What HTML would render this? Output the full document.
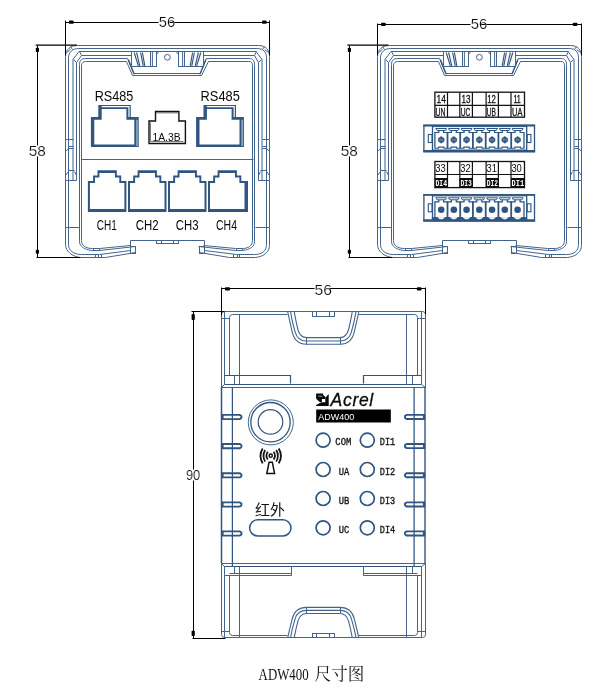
<!DOCTYPE html>
<html><head><meta charset="utf-8"><title>ADW400</title>
<style>html,body{margin:0;padding:0;background:#fff;}body{width:613px;height:690px;overflow:hidden;font-family:"Liberation Sans",sans-serif;}svg{display:block;}</style>
</head><body>
<svg width="613" height="690" viewBox="0 0 613 690" style="will-change:transform">
<rect width="613" height="690" fill="#fff"/>
<defs><mask id="mk" maskUnits="userSpaceOnUse" x="0" y="0" width="613" height="690"><rect width="613" height="690" fill="#fff"/></mask>
<g id="shell" fill="none">
<path d="M135.5,252.5 L105.5,257.5 L80.5,257.5 C71.5,256.5 66.5,251.5 65.5,245.5 L65.5,56.5 C65.5,49.5 70.5,45.5 77.5,45.5 L258.5,45.5 C265.5,45.5 269.5,49.5 269.5,56.5 L269.5,245.5 C269.5,251.5 264.5,256.5 255.5,257.5 L229.5,257.5 L199.5,252.5" stroke="#43658d" stroke-width="1" fill="none" />
<path d="M130.5,250.5 L99.5,254.5 L81.5,254.5 C73.5,254.5 68.5,250.5 68.5,244.5 L68.5,57.5 C68.5,52.5 72.5,48.5 78.5,48.5 L257.5,48.5 C263.5,48.5 266.5,52.5 266.5,57.5 L266.5,244.5 C266.5,250.5 262.5,254.5 254.5,254.5 L236.5,254.5 L204.5,250.5" stroke="#43658d" stroke-width="1" fill="none" />
<path d="M66.5,52.5L70.5,49.5" stroke="#43658d" stroke-width="1"/>
<path d="M268.5,52.5L264.5,49.5" stroke="#43658d" stroke-width="1"/>
<path d="M70.5,46.5L72.5,49.5" stroke="#43658d" stroke-width="1"/>
<path d="M264.5,46.5L262.5,49.5" stroke="#43658d" stroke-width="1"/>
<path d="M73,180 L73,59.5 L79,51.5 L256.0,51.5 L262.0,59.5 L262.0,180" stroke="#43658d" stroke-width="1" fill="none" />
<path d="M76.5,180.5 L76.5,62.5 L81.5,55.5 L131.5,55.5" stroke="#43658d" stroke-width="1" fill="none" />
<path d="M258.5,180.5 L258.5,62.5 L254.5,55.5 L203.5,55.5" stroke="#43658d" stroke-width="1" fill="none" />
<path d="M73.5,59.5L76.5,62.5" stroke="#43658d" stroke-width="1"/>
<path d="M261.5,59.5L258.5,62.5" stroke="#43658d" stroke-width="1"/>
<path d="M79.5,51.5L81.5,55.5" stroke="#43658d" stroke-width="1"/>
<path d="M256.5,51.5L254.5,55.5" stroke="#43658d" stroke-width="1"/>
<path d="M135.5,246.5 L99.5,250.5 L91.5,250.5 C84.5,249.5 79.5,246.5 79.5,241.5 L79.5,64.5 C79.5,60.5 81.5,58.5 85.5,58.5 L127.5,58.5 L133.5,73.5 L200.5,73.5 L206.5,58.5 L249.5,58.5 C252.5,58.5 254.5,60.5 254.5,64.5 L254.5,241.5 C254.5,246.5 250.5,249.5 242.5,250.5 L235.5,250.5 L198.5,246.5" stroke="#43658d" stroke-width="1" fill="none" />
<path d="M130.5,245.5 L99.5,248.5 L92.5,248.5 C85.5,248.5 81.5,245.5 81.5,240.5 L81.5,65.5 C81.5,62.5 83.5,61.5 86.5,61.5 L126.5,61.5 L132.5,75.5 L201.5,75.5 L208.5,61.5 L248.5,61.5 C251.5,61.5 252.5,62.5 252.5,65.5 L252.5,240.5 C252.5,245.5 248.5,248.5 242.5,248.5 L235.5,248.5 L203.5,245.5" stroke="#43658d" stroke-width="1" fill="none" />
<path d="M128.4,59.5 L134.4,74.4 M205.8,59.5 L199.8,74.4" stroke="#2f5580" stroke-width="1.2" fill="none" />
<path d="M130.5,253.5 L130.5,240.5 L204.5,240.5 L204.5,253.5" stroke="#43658d" stroke-width="1" fill="none" />
<rect x="156.5" y="240.5" width="22.0" height="3.0" stroke="#43658d" stroke-width="1" fill="none"/>
<path d="M161.5,240.5L161.5,243.5" stroke="#43658d" stroke-width="1"/>
<path d="M173.5,240.5L173.5,243.5" stroke="#43658d" stroke-width="1"/>
<rect x="130.5" y="246.5" width="5.0" height="7.0" stroke="#43658d" stroke-width="1" fill="none"/>
<rect x="199.5" y="246.5" width="5.0" height="7.0" stroke="#43658d" stroke-width="1" fill="none"/>
<path d="M95.5,254.5 L95.5,257.5 M98.5,254.5 L98.5,257.5 M101.5,254.5 L101.5,257.5" stroke="#43658d" stroke-width="1" fill="none" />
<path d="M239.5,254.5 L239.5,257.5 M237.5,254.5 L237.5,257.5 M233.5,254.5 L233.5,257.5" stroke="#43658d" stroke-width="1" fill="none" />
<path d="M93.5,250.5 L93.5,248.5 M99.5,250.5 L99.5,248.5" stroke="#43658d" stroke-width="1" fill="none" />
<path d="M242.5,250.5 L242.5,248.5 M236.5,250.5 L236.5,248.5" stroke="#43658d" stroke-width="1" fill="none" />
<path d="M65.5,227.5L79.5,227.5" stroke="#43658d" stroke-width="1"/>
<path d="M269.5,227.5L255.5,227.5" stroke="#43658d" stroke-width="1"/>
<path d="M65.5,139.5 L73.5,139.5 M68.5,146.5 L73.5,146.5 M68.5,148.5 L73.5,148.5 M65.5,151.5 L68.5,148.5 M68.5,170.5 L74.5,170.5 M74.5,171.5 L76.5,175.5 M65.5,180.5 L76.5,180.5 M65.5,175.5 L68.5,171.5" stroke="#43658d" stroke-width="1" fill="none" />
<path d="M269.5,139.5 L262.5,139.5 M266.5,146.5 L262.5,146.5 M266.5,148.5 L262.5,148.5 M269.5,151.5 L266.5,148.5 M266.5,170.5 L260.5,170.5 M260.5,171.5 L258.5,175.5 M269.5,180.5 L258.5,180.5 M269.5,175.5 L266.5,171.5" stroke="#43658d" stroke-width="1" fill="none" />
<rect x="131.5" y="51.5" width="25.0" height="15.0" stroke="#43658d" stroke-width="1" fill="none"/>
<rect x="178.5" y="51.5" width="25.0" height="15.0" stroke="#43658d" stroke-width="1" fill="none"/>
<path d="M150.5,51.5 L150.5,66.2 M152.4,51.5 L152.4,66.2" stroke="#43658d" stroke-width="1" fill="none" />
<path d="M134.2,52.5 L138.3,65.8 M136.6,52.5 L139.8,65.8 M140.6,52.5 L143.2,65.8 M142.4,52.5 L144.8,65.8" stroke="#2f5580" stroke-width="1.15" fill="none" />
<path d="M156.6,54.5 L158.8,51.5" stroke="#43658d" stroke-width="1" fill="none" />
<path d="M184.5,51.5 L184.5,66.2 M182.6,51.5 L182.6,66.2" stroke="#43658d" stroke-width="1" fill="none" />
<path d="M200.8,52.5 L196.7,65.8 M198.4,52.5 L195.2,65.8 M194.4,52.5 L191.8,65.8 M192.6,52.5 L190.2,65.8" stroke="#2f5580" stroke-width="1.15" fill="none" />
<path d="M178.4,54.5 L176.2,51.5" stroke="#43658d" stroke-width="1" fill="none" />
<circle cx="167.4" cy="57.3" r="2.9" stroke="#43658d" stroke-width="1"/>
</g>
</defs>
<g mask="url(#mk)">
<use href="#shell"/>
<use href="#shell" transform="translate(312,0)"/>
<g fill="none">
<path d="M81.5,159.5L253.5,159.5" stroke="#43658d" stroke-width="1"/>
<path d="M90.9,116.9 L98.3,116.9 L98.3,105.0 L130.8,105.0 L130.8,117.1 L138.7,117.1 L138.7,146.9 L90.9,146.9 Z" fill="#2f5580" stroke="none"/>
<path d="M94.3,119.7 L101.7,119.7 L101.7,109.1 L126.4,109.1 L126.4,119.7 L134.3,119.7 L134.3,144.4 L94.3,144.4 Z" fill="#fff" stroke="none"/>
<path d="M101.7,106.1 L129.6,106.1 L129.6,117.1 L128.4,117.1 L128.4,107.3 L101.7,107.3 Z" fill="#fff" stroke="none"/>
<path d="M136.2,119.7 L137.7,119.7 L137.7,146.0 L136.2,146.0 Z" fill="#9db0c8" stroke="none"/>
<path d="M196.1,116.9 L203.5,116.9 L203.5,105.0 L236.0,105.0 L236.0,117.1 L243.9,117.1 L243.9,146.9 L196.1,146.9 Z" fill="#2f5580" stroke="none"/>
<path d="M199.5,119.7 L206.9,119.7 L206.9,109.1 L231.6,109.1 L231.6,119.7 L239.5,119.7 L239.5,144.4 L199.5,144.4 Z" fill="#fff" stroke="none"/>
<path d="M206.9,106.1 L234.8,106.1 L234.8,117.1 L233.6,117.1 L233.6,107.3 L206.9,107.3 Z" fill="#fff" stroke="none"/>
<path d="M241.4,119.7 L242.9,119.7 L242.9,146.0 L241.4,146.0 Z" fill="#9db0c8" stroke="none"/>
<path d="M149.0,121.0 H155.5 V111.4 H178.9 V121.0 H185.4 V143.5 H149.0 Z" stroke="#111" stroke-width="1.4" fill="none" stroke-linejoin="miter"/>
<path d="M150.5,122.5 V141.5 H183.5" stroke="#777" stroke-width="1" fill="none" />
<path d="M156,112.8L178.6,112.8" stroke="#555" stroke-width="1"/>
<path d="M87.9,181.1 L93.1,181.1 L93.1,175.4 L97.5,175.4 L97.5,170.3 L116.8,170.3 L116.8,175.4 L121.2,175.4 L121.2,181.1 L126.4,181.1 L126.4,211.9 L87.9,211.9 Z" fill="#2f5580" stroke="none"/>
<path d="M89.9,182.9 L95.0,182.9 L95.0,177.4 L99.4,177.4 L99.4,173.0 L114.9,173.0 L114.9,177.4 L119.3,177.4 L119.3,182.9 L124.4,182.9 L124.4,209.1 L89.9,209.1 Z" fill="#fff" stroke="none"/>
<path d="M128.0,181.1 L133.2,181.1 L133.2,175.4 L137.6,175.4 L137.6,170.3 L156.9,170.3 L156.9,175.4 L161.3,175.4 L161.3,181.1 L166.5,181.1 L166.5,211.9 L128.0,211.9 Z" fill="#2f5580" stroke="none"/>
<path d="M130.0,182.9 L135.1,182.9 L135.1,177.4 L139.5,177.4 L139.5,173.0 L155.0,173.0 L155.0,177.4 L159.4,177.4 L159.4,182.9 L164.5,182.9 L164.5,209.1 L130.0,209.1 Z" fill="#fff" stroke="none"/>
<path d="M168.0,181.1 L173.2,181.1 L173.2,175.4 L177.6,175.4 L177.6,170.3 L196.9,170.3 L196.9,175.4 L201.3,175.4 L201.3,181.1 L206.5,181.1 L206.5,211.9 L168.0,211.9 Z" fill="#2f5580" stroke="none"/>
<path d="M170.0,182.9 L175.1,182.9 L175.1,177.4 L179.5,177.4 L179.5,173.0 L195.0,173.0 L195.0,177.4 L199.4,177.4 L199.4,182.9 L204.5,182.9 L204.5,209.1 L170.0,209.1 Z" fill="#fff" stroke="none"/>
<path d="M208.0,181.1 L213.2,181.1 L213.2,175.4 L217.6,175.4 L217.6,170.3 L236.9,170.3 L236.9,175.4 L241.3,175.4 L241.3,181.1 L246.5,181.1 L246.5,211.9 L208.0,211.9 Z" fill="#2f5580" stroke="none"/>
<path d="M210.0,182.9 L215.1,182.9 L215.1,177.4 L219.5,177.4 L219.5,173.0 L235.0,173.0 L235.0,177.4 L239.4,177.4 L239.4,182.9 L244.5,182.9 L244.5,209.1 L210.0,209.1 Z" fill="#fff" stroke="none"/>
<path d="M246,181.1 L248,181.1 L248,211.9 L246,211.9 Z" fill="#2f5580" stroke="none"/>
</g>
<text x="94.7" y="100.7" font-family="'Liberation Sans', sans-serif" font-size="15.2" font-weight="normal" font-style="normal" fill="#0a0a0a" textLength="38.7" lengthAdjust="spacingAndGlyphs" >RS485</text>
<text x="200.6" y="100.7" font-family="'Liberation Sans', sans-serif" font-size="15.2" font-weight="normal" font-style="normal" fill="#0a0a0a" textLength="39.2" lengthAdjust="spacingAndGlyphs" >RS485</text>
<text x="152.4" y="140.8" font-family="'Liberation Sans', sans-serif" font-size="10.8" font-weight="normal" font-style="normal" fill="#0a0a0a" textLength="28.2" lengthAdjust="spacingAndGlyphs" >1A.3B</text>
<text x="96.8" y="229.6" font-family="'Liberation Sans', sans-serif" font-size="14.5" font-weight="normal" font-style="normal" fill="#0a0a0a" textLength="20.0" lengthAdjust="spacingAndGlyphs" >CH1</text>
<text x="135.7" y="229.6" font-family="'Liberation Sans', sans-serif" font-size="14.5" font-weight="normal" font-style="normal" fill="#0a0a0a" textLength="22.8" lengthAdjust="spacingAndGlyphs" >CH2</text>
<text x="175.8" y="229.6" font-family="'Liberation Sans', sans-serif" font-size="14.5" font-weight="normal" font-style="normal" fill="#0a0a0a" textLength="22.7" lengthAdjust="spacingAndGlyphs" >CH3</text>
<text x="216" y="229.6" font-family="'Liberation Sans', sans-serif" font-size="14.5" font-weight="normal" font-style="normal" fill="#0a0a0a" textLength="21" lengthAdjust="spacingAndGlyphs" >CH4</text>
<g fill="none">
<rect x="434.9" y="92.2" width="89.6" height="25.0" stroke="#111" stroke-width="1.3" fill="none"/>
<path d="M434.9,105.3L524.5,105.3" stroke="#111" stroke-width="1.2"/>
<path d="M447.5,92.2L447.5,117.2" stroke="#111" stroke-width="1.2"/>
<path d="M459.8,92.2L459.8,117.2" stroke="#111" stroke-width="1.2"/>
<path d="M472.4,92.2L472.4,117.2" stroke="#111" stroke-width="1.2"/>
<path d="M486.1,92.2L486.1,117.2" stroke="#111" stroke-width="1.2"/>
<path d="M498.4,92.2L498.4,117.2" stroke="#111" stroke-width="1.2"/>
<path d="M511.0,92.2L511.0,117.2" stroke="#111" stroke-width="1.2"/>
<rect x="434.9" y="161.5" width="89.6" height="26.1" stroke="#111" stroke-width="1.3" fill="none"/>
<path d="M434.9,174.5L524.5,174.5" stroke="#111" stroke-width="1.2"/>
<path d="M447.5,161.5L447.5,187.6" stroke="#111" stroke-width="1.2"/>
<path d="M459.8,161.5L459.8,187.6" stroke="#111" stroke-width="1.2"/>
<path d="M472.4,161.5L472.4,187.6" stroke="#111" stroke-width="1.2"/>
<path d="M486.1,161.5L486.1,187.6" stroke="#111" stroke-width="1.2"/>
<path d="M498.4,161.5L498.4,187.6" stroke="#111" stroke-width="1.2"/>
<path d="M511.0,161.5L511.0,187.6" stroke="#111" stroke-width="1.2"/>
<rect x="434.9" y="178" width="12.6" height="9.0" stroke="#111" stroke-width="0" fill="#0a0a0a"/>
<rect x="459.8" y="178" width="12.6" height="9.0" stroke="#111" stroke-width="0" fill="#0a0a0a"/>
<rect x="486.1" y="178" width="12.3" height="9.0" stroke="#111" stroke-width="0" fill="#0a0a0a"/>
<rect x="511.0" y="178" width="13.5" height="9.0" stroke="#111" stroke-width="0" fill="#0a0a0a"/>
<rect x="423.9" y="125.39999999999999" width="110.6" height="26.0" stroke="#2f5580" stroke-width="1.3" fill="#fff"/>
<path d="M423.3,125.5L535.1,125.5" stroke="#2f5580" stroke-width="1.8"/>
<path d="M423.3,151.20000000000002L535.1,151.20000000000002" stroke="#2f5580" stroke-width="2.4"/>
<path d="M432.5,125.5L432.5,151.4" stroke="#2f5580" stroke-width="1.3"/>
<path d="M526.7,125.5L526.7,151.4" stroke="#2f5580" stroke-width="1.3"/>
<path d="M432.2,126.6L526.8,126.6" stroke="#2f5580" stroke-width="1"/>
<path d="M432.2,150.4L526.8,150.4" stroke="#2f5580" stroke-width="1.6"/>
<rect x="428.3" y="134.5" width="3.7" height="8.0" stroke="#2f5580" stroke-width="1.1" fill="none"/>
<rect x="527.2" y="134.5" width="3.7" height="8.0" stroke="#2f5580" stroke-width="1.1" fill="none"/>
<path d="M434.9,132.0L434.9,148.60000000000002" stroke="#2f5580" stroke-width="1.3"/>
<path d="M447.5,132.0L447.5,148.60000000000002" stroke="#2f5580" stroke-width="1.8"/>
<path d="M460.2,132.0L460.2,148.60000000000002" stroke="#2f5580" stroke-width="1.8"/>
<path d="M472.9,132.0L472.9,148.60000000000002" stroke="#2f5580" stroke-width="1.8"/>
<path d="M485.7,132.0L485.7,148.60000000000002" stroke="#2f5580" stroke-width="1.8"/>
<path d="M498.4,132.0L498.4,148.60000000000002" stroke="#2f5580" stroke-width="1.8"/>
<path d="M511.2,132.0L511.2,148.60000000000002" stroke="#2f5580" stroke-width="1.8"/>
<path d="M524.0,132.0L524.0,148.60000000000002" stroke="#2f5580" stroke-width="1.3"/>
<path d="M435.79999999999995,128.5 H446.6 L445.3,130.5 H437.09999999999997 Z" stroke="#2f5580" stroke-width="1.0" fill="none" />
<path d="M434.9,132.5 H438.79999999999995 V130.79999999999998 M443.6,130.79999999999998 V132.5 H447.5" stroke="#2f5580" stroke-width="1.2" fill="none" />
<path d="M434.9,148.20000000000002 H438.5 V147.10000000000002 H443.9 V148.20000000000002 H447.5" stroke="#2f5580" stroke-width="1.1" fill="none" />
<path d="M441.2,136.4 L444.09999999999997,138.4 V141.20000000000002 L441.2,143.20000000000002 L438.3,141.20000000000002 V138.4 Z" stroke="#2f5580" stroke-width="0.6" fill="#2f5580" />
<path d="M439.7,139.8 H442.7 M440.0,138.60000000000002 V141.0 M442.4,138.60000000000002 V141.0" stroke="#7f97b5" stroke-width="0.7" fill="none" />
<path d="M448.4,128.5 H459.3 L458.0,130.5 H449.7 Z" stroke="#2f5580" stroke-width="1.0" fill="none" />
<path d="M447.5,132.5 H451.4 V130.79999999999998 M456.3,130.79999999999998 V132.5 H460.2" stroke="#2f5580" stroke-width="1.2" fill="none" />
<path d="M447.5,148.20000000000002 H451.1 V147.10000000000002 H456.59999999999997 V148.20000000000002 H460.2" stroke="#2f5580" stroke-width="1.1" fill="none" />
<path d="M453.85,136.4 L456.75,138.4 V141.20000000000002 L453.85,143.20000000000002 L450.95000000000005,141.20000000000002 V138.4 Z" stroke="#2f5580" stroke-width="0.6" fill="#2f5580" />
<path d="M452.35,139.8 H455.35 M452.65000000000003,138.60000000000002 V141.0 M455.05,138.60000000000002 V141.0" stroke="#7f97b5" stroke-width="0.7" fill="none" />
<path d="M461.09999999999997,128.5 H472.0 L470.7,130.5 H462.4 Z" stroke="#2f5580" stroke-width="1.0" fill="none" />
<path d="M460.2,132.5 H464.09999999999997 V130.79999999999998 M469.0,130.79999999999998 V132.5 H472.9" stroke="#2f5580" stroke-width="1.2" fill="none" />
<path d="M460.2,148.20000000000002 H463.8 V147.10000000000002 H469.29999999999995 V148.20000000000002 H472.9" stroke="#2f5580" stroke-width="1.1" fill="none" />
<path d="M466.54999999999995,136.4 L469.44999999999993,138.4 V141.20000000000002 L466.54999999999995,143.20000000000002 L463.65,141.20000000000002 V138.4 Z" stroke="#2f5580" stroke-width="0.6" fill="#2f5580" />
<path d="M465.04999999999995,139.8 H468.04999999999995 M465.34999999999997,138.60000000000002 V141.0 M467.74999999999994,138.60000000000002 V141.0" stroke="#7f97b5" stroke-width="0.7" fill="none" />
<path d="M473.79999999999995,128.5 H484.8 L483.5,130.5 H475.09999999999997 Z" stroke="#2f5580" stroke-width="1.0" fill="none" />
<path d="M472.9,132.5 H476.79999999999995 V130.79999999999998 M481.8,130.79999999999998 V132.5 H485.7" stroke="#2f5580" stroke-width="1.2" fill="none" />
<path d="M472.9,148.20000000000002 H476.5 V147.10000000000002 H482.09999999999997 V148.20000000000002 H485.7" stroke="#2f5580" stroke-width="1.1" fill="none" />
<path d="M479.29999999999995,136.4 L482.19999999999993,138.4 V141.20000000000002 L479.29999999999995,143.20000000000002 L476.4,141.20000000000002 V138.4 Z" stroke="#2f5580" stroke-width="0.6" fill="#2f5580" />
<path d="M477.79999999999995,139.8 H480.79999999999995 M478.09999999999997,138.60000000000002 V141.0 M480.49999999999994,138.60000000000002 V141.0" stroke="#7f97b5" stroke-width="0.7" fill="none" />
<path d="M486.59999999999997,128.5 H497.5 L496.2,130.5 H487.9 Z" stroke="#2f5580" stroke-width="1.0" fill="none" />
<path d="M485.7,132.5 H489.59999999999997 V130.79999999999998 M494.5,130.79999999999998 V132.5 H498.4" stroke="#2f5580" stroke-width="1.2" fill="none" />
<path d="M485.7,148.20000000000002 H489.3 V147.10000000000002 H494.79999999999995 V148.20000000000002 H498.4" stroke="#2f5580" stroke-width="1.1" fill="none" />
<path d="M492.04999999999995,136.4 L494.94999999999993,138.4 V141.20000000000002 L492.04999999999995,143.20000000000002 L489.15,141.20000000000002 V138.4 Z" stroke="#2f5580" stroke-width="0.6" fill="#2f5580" />
<path d="M490.54999999999995,139.8 H493.54999999999995 M490.84999999999997,138.60000000000002 V141.0 M493.24999999999994,138.60000000000002 V141.0" stroke="#7f97b5" stroke-width="0.7" fill="none" />
<path d="M499.29999999999995,128.5 H510.3 L509.0,130.5 H500.59999999999997 Z" stroke="#2f5580" stroke-width="1.0" fill="none" />
<path d="M498.4,132.5 H502.29999999999995 V130.79999999999998 M507.3,130.79999999999998 V132.5 H511.2" stroke="#2f5580" stroke-width="1.2" fill="none" />
<path d="M498.4,148.20000000000002 H502.0 V147.10000000000002 H507.59999999999997 V148.20000000000002 H511.2" stroke="#2f5580" stroke-width="1.1" fill="none" />
<path d="M504.79999999999995,136.4 L507.69999999999993,138.4 V141.20000000000002 L504.79999999999995,143.20000000000002 L501.9,141.20000000000002 V138.4 Z" stroke="#2f5580" stroke-width="0.6" fill="#2f5580" />
<path d="M503.29999999999995,139.8 H506.29999999999995 M503.59999999999997,138.60000000000002 V141.0 M505.99999999999994,138.60000000000002 V141.0" stroke="#7f97b5" stroke-width="0.7" fill="none" />
<path d="M512.1,128.5 H523.1 L521.8,130.5 H513.4 Z" stroke="#2f5580" stroke-width="1.0" fill="none" />
<path d="M511.2,132.5 H515.1 V130.79999999999998 M520.1,130.79999999999998 V132.5 H524.0" stroke="#2f5580" stroke-width="1.2" fill="none" />
<path d="M511.2,148.20000000000002 H514.8 V147.10000000000002 H520.4 V148.20000000000002 H524.0" stroke="#2f5580" stroke-width="1.1" fill="none" />
<path d="M517.6,136.4 L520.5,138.4 V141.20000000000002 L517.6,143.20000000000002 L514.7,141.20000000000002 V138.4 Z" stroke="#2f5580" stroke-width="0.6" fill="#2f5580" />
<path d="M516.1,139.8 H519.1 M516.4,138.60000000000002 V141.0 M518.8000000000001,138.60000000000002 V141.0" stroke="#7f97b5" stroke-width="0.7" fill="none" />
<rect x="423.9" y="194.70000000000002" width="110.6" height="26.0" stroke="#2f5580" stroke-width="1.3" fill="#fff"/>
<path d="M423.3,194.8L535.1,194.8" stroke="#2f5580" stroke-width="1.8"/>
<path d="M423.3,220.5L535.1,220.5" stroke="#2f5580" stroke-width="2.4"/>
<path d="M432.5,194.8L432.5,220.7" stroke="#2f5580" stroke-width="1.3"/>
<path d="M526.7,194.8L526.7,220.7" stroke="#2f5580" stroke-width="1.3"/>
<path d="M432.2,195.9L526.8,195.9" stroke="#2f5580" stroke-width="1"/>
<rect x="432.2" y="217.29999999999998" width="94.6" height="3.7" stroke="#2f5580" stroke-width="0.5" fill="#2f5580"/>
<rect x="428.3" y="203.8" width="3.7" height="8.0" stroke="#2f5580" stroke-width="1.1" fill="none"/>
<rect x="527.2" y="203.8" width="3.7" height="8.0" stroke="#2f5580" stroke-width="1.1" fill="none"/>
<path d="M434.9,201.3L434.9,217.9" stroke="#2f5580" stroke-width="1.3"/>
<path d="M447.5,201.3L447.5,217.9" stroke="#2f5580" stroke-width="1.8"/>
<path d="M460.2,201.3L460.2,217.9" stroke="#2f5580" stroke-width="1.8"/>
<path d="M472.9,201.3L472.9,217.9" stroke="#2f5580" stroke-width="1.8"/>
<path d="M485.7,201.3L485.7,217.9" stroke="#2f5580" stroke-width="1.8"/>
<path d="M498.4,201.3L498.4,217.9" stroke="#2f5580" stroke-width="1.8"/>
<path d="M511.2,201.3L511.2,217.9" stroke="#2f5580" stroke-width="1.8"/>
<path d="M524.0,201.3L524.0,217.9" stroke="#2f5580" stroke-width="1.3"/>
<path d="M435.79999999999995,197.8 H446.6 L445.3,199.8 H437.09999999999997 Z" stroke="#2f5580" stroke-width="1.0" fill="none" />
<path d="M434.9,201.8 H438.79999999999995 V200.1 M443.6,200.1 V201.8 H447.5" stroke="#2f5580" stroke-width="1.2" fill="none" />
<circle cx="441.2" cy="209.7" r="3.3" fill="#2f5580"/>
<path d="M437.5,217.3 Q441.2,221.1 444.9,217.3 Z" stroke="#fff" stroke-width="0.3" fill="#fff" />
<path d="M434.9,217.5 H437.5 M444.9,217.5 H447.5" stroke="#2f5580" stroke-width="1.1" fill="none" />
<path d="M448.4,197.8 H459.3 L458.0,199.8 H449.7 Z" stroke="#2f5580" stroke-width="1.0" fill="none" />
<path d="M447.5,201.8 H451.4 V200.1 M456.3,200.1 V201.8 H460.2" stroke="#2f5580" stroke-width="1.2" fill="none" />
<circle cx="453.85" cy="209.7" r="3.3" fill="#2f5580"/>
<path d="M450.1,217.3 Q453.85,221.1 457.59999999999997,217.3 Z" stroke="#fff" stroke-width="0.3" fill="#fff" />
<path d="M447.5,217.5 H450.1 M457.59999999999997,217.5 H460.2" stroke="#2f5580" stroke-width="1.1" fill="none" />
<path d="M461.09999999999997,197.8 H472.0 L470.7,199.8 H462.4 Z" stroke="#2f5580" stroke-width="1.0" fill="none" />
<path d="M460.2,201.8 H464.09999999999997 V200.1 M469.0,200.1 V201.8 H472.9" stroke="#2f5580" stroke-width="1.2" fill="none" />
<circle cx="466.54999999999995" cy="209.7" r="3.3" fill="#2f5580"/>
<path d="M462.8,217.3 Q466.54999999999995,221.1 470.29999999999995,217.3 Z" stroke="#fff" stroke-width="0.3" fill="#fff" />
<path d="M460.2,217.5 H462.8 M470.29999999999995,217.5 H472.9" stroke="#2f5580" stroke-width="1.1" fill="none" />
<path d="M473.79999999999995,197.8 H484.8 L483.5,199.8 H475.09999999999997 Z" stroke="#2f5580" stroke-width="1.0" fill="none" />
<path d="M472.9,201.8 H476.79999999999995 V200.1 M481.8,200.1 V201.8 H485.7" stroke="#2f5580" stroke-width="1.2" fill="none" />
<circle cx="479.29999999999995" cy="209.7" r="3.3" fill="#2f5580"/>
<path d="M475.5,217.3 Q479.29999999999995,221.1 483.09999999999997,217.3 Z" stroke="#fff" stroke-width="0.3" fill="#fff" />
<path d="M472.9,217.5 H475.5 M483.09999999999997,217.5 H485.7" stroke="#2f5580" stroke-width="1.1" fill="none" />
<path d="M486.59999999999997,197.8 H497.5 L496.2,199.8 H487.9 Z" stroke="#2f5580" stroke-width="1.0" fill="none" />
<path d="M485.7,201.8 H489.59999999999997 V200.1 M494.5,200.1 V201.8 H498.4" stroke="#2f5580" stroke-width="1.2" fill="none" />
<circle cx="492.04999999999995" cy="209.7" r="3.3" fill="#2f5580"/>
<path d="M488.3,217.3 Q492.04999999999995,221.1 495.79999999999995,217.3 Z" stroke="#fff" stroke-width="0.3" fill="#fff" />
<path d="M485.7,217.5 H488.3 M495.79999999999995,217.5 H498.4" stroke="#2f5580" stroke-width="1.1" fill="none" />
<path d="M499.29999999999995,197.8 H510.3 L509.0,199.8 H500.59999999999997 Z" stroke="#2f5580" stroke-width="1.0" fill="none" />
<path d="M498.4,201.8 H502.29999999999995 V200.1 M507.3,200.1 V201.8 H511.2" stroke="#2f5580" stroke-width="1.2" fill="none" />
<circle cx="504.79999999999995" cy="209.7" r="3.3" fill="#2f5580"/>
<path d="M501.0,217.3 Q504.79999999999995,221.1 508.59999999999997,217.3 Z" stroke="#fff" stroke-width="0.3" fill="#fff" />
<path d="M498.4,217.5 H501.0 M508.59999999999997,217.5 H511.2" stroke="#2f5580" stroke-width="1.1" fill="none" />
<path d="M512.1,197.8 H523.1 L521.8,199.8 H513.4 Z" stroke="#2f5580" stroke-width="1.0" fill="none" />
<path d="M511.2,201.8 H515.1 V200.1 M520.1,200.1 V201.8 H524.0" stroke="#2f5580" stroke-width="1.2" fill="none" />
<circle cx="517.6" cy="209.7" r="3.3" fill="#2f5580"/>
<path d="M513.8,217.3 Q517.6,221.1 521.4,217.3 Z" stroke="#fff" stroke-width="0.3" fill="#fff" />
<path d="M511.2,217.5 H513.8 M521.4,217.5 H524.0" stroke="#2f5580" stroke-width="1.1" fill="none" />
</g>
<text x="436.5" y="102.8" font-family="'Liberation Sans', sans-serif" font-size="10.4" font-weight="normal" font-style="normal" fill="#111" textLength="9.4" lengthAdjust="spacingAndGlyphs" stroke="#111" stroke-width="0.3">14</text>
<text x="435.5" y="115.8" font-family="'Liberation Sans', sans-serif" font-size="10.6" font-weight="normal" font-style="normal" fill="#111" textLength="10.0" lengthAdjust="spacingAndGlyphs" stroke="#111" stroke-width="0.3">UN</text>
<text x="461.4" y="102.8" font-family="'Liberation Sans', sans-serif" font-size="10.4" font-weight="normal" font-style="normal" fill="#111" textLength="9.0" lengthAdjust="spacingAndGlyphs" stroke="#111" stroke-width="0.3">13</text>
<text x="460.8" y="115.8" font-family="'Liberation Sans', sans-serif" font-size="10.6" font-weight="normal" font-style="normal" fill="#111" textLength="9.6" lengthAdjust="spacingAndGlyphs" stroke="#111" stroke-width="0.3">UC</text>
<text x="487.3" y="102.8" font-family="'Liberation Sans', sans-serif" font-size="10.4" font-weight="normal" font-style="normal" fill="#111" textLength="8.6" lengthAdjust="spacingAndGlyphs" stroke="#111" stroke-width="0.3">12</text>
<text x="486.7" y="115.8" font-family="'Liberation Sans', sans-serif" font-size="10.6" font-weight="normal" font-style="normal" fill="#111" textLength="9.2" lengthAdjust="spacingAndGlyphs" stroke="#111" stroke-width="0.3">UB</text>
<text x="513.4" y="102.8" font-family="'Liberation Sans', sans-serif" font-size="10.4" font-weight="normal" font-style="normal" fill="#111" textLength="7.4" lengthAdjust="spacingAndGlyphs" stroke="#111" stroke-width="0.3">11</text>
<text x="512.0" y="115.8" font-family="'Liberation Sans', sans-serif" font-size="10.6" font-weight="normal" font-style="normal" fill="#111" textLength="10.4" lengthAdjust="spacingAndGlyphs" stroke="#111" stroke-width="0.3">UA</text>
<text x="435.3" y="172.1" font-family="'Liberation Sans', sans-serif" font-size="10.6" font-weight="normal" font-style="normal" fill="#0a0a0a" textLength="10.4" lengthAdjust="spacingAndGlyphs" >33</text>
<text x="435.5" y="185.9" font-family="'Liberation Mono', sans-serif" font-size="9.6" font-weight="bold" font-style="normal" fill="#fff" textLength="11.6" lengthAdjust="spacingAndGlyphs" >DI4</text>
<text x="460.2" y="172.1" font-family="'Liberation Sans', sans-serif" font-size="10.6" font-weight="normal" font-style="normal" fill="#0a0a0a" textLength="10.4" lengthAdjust="spacingAndGlyphs" >32</text>
<text x="460.4" y="185.9" font-family="'Liberation Mono', sans-serif" font-size="9.6" font-weight="bold" font-style="normal" fill="#fff" textLength="11.6" lengthAdjust="spacingAndGlyphs" >DI3</text>
<text x="486.5" y="172.1" font-family="'Liberation Sans', sans-serif" font-size="10.6" font-weight="normal" font-style="normal" fill="#0a0a0a" textLength="10.4" lengthAdjust="spacingAndGlyphs" >31</text>
<text x="486.7" y="185.9" font-family="'Liberation Mono', sans-serif" font-size="9.6" font-weight="bold" font-style="normal" fill="#fff" textLength="11.3" lengthAdjust="spacingAndGlyphs" >DI2</text>
<text x="511.4" y="172.1" font-family="'Liberation Sans', sans-serif" font-size="10.6" font-weight="normal" font-style="normal" fill="#0a0a0a" textLength="10.4" lengthAdjust="spacingAndGlyphs" >30</text>
<text x="511.6" y="185.9" font-family="'Liberation Mono', sans-serif" font-size="9.6" font-weight="bold" font-style="normal" fill="#fff" textLength="12.5" lengthAdjust="spacingAndGlyphs" >DI1</text>
<g fill="none">
<path d="M221.5,387.5 V314.5 Q221.5,311.5 224.5,311.5 H422.5 Q425.5,311.5 425.5,314.5 V387.5" stroke="#43658d" stroke-width="1" fill="none" />
<path d="M224.5,384.5 V311.5 M421.5,384.5 V311.5" stroke="#43658d" stroke-width="1" fill="none" />
<path d="M229.5,375.5 V317.5 Q229.5,314.5 232.5,314.5 H287.5 M417.5,375.5 V317.5 Q417.5,314.5 414.5,314.5 H358.5" stroke="#43658d" stroke-width="1" fill="none" />
<path d="M221.5,318.5L229.5,318.5" stroke="#43658d" stroke-width="1"/>
<path d="M417.5,318.5L425.5,318.5" stroke="#43658d" stroke-width="1"/>
<path d="M239.5,314.5L239.5,384.5" stroke="#43658d" stroke-width="1"/>
<path d="M406.5,314.5L406.5,384.5" stroke="#43658d" stroke-width="1"/>
<path d="M287.7,311.50 C288.5,316.00 289.8,321.30 292.2,331.90 C293.5,337.50 297.5,344.20 306.5,344.20 H340.0 M358.8,311.50 C358.0,316.00 356.7,321.30 354.3,331.90 C353.0,337.50 349.0,344.20 340.0,344.20" stroke="#43658d" stroke-width="1.1" fill="none" />
<path d="M290.6,311.80 C291.2,316.00 292.2,321.30 295.1,331.90 C296.3,336.50 299.5,341.00 306.5,341.00 H340.0 M355.9,311.80 C355.3,316.00 354.3,321.30 351.4,331.90 C350.2,336.50 347.0,341.00 340.0,341.00" stroke="#43658d" stroke-width="1.1" fill="none" />
<path d="M294.3,312.00 C295,316.00 295.9,321.30 297.9,329.50 C299,333.50 301,337.60 306.5,337.60 H340.0 M352.2,312.00 C351.5,316.00 350.6,321.30 348.6,329.50 C347.5,333.50 345.5,337.60 340.0,337.60" stroke="#43658d" stroke-width="1.1" fill="none" />
<path d="M306.5,337.5L306.5,344.5" stroke="#43658d" stroke-width="1"/>
<path d="M340.5,337.5L340.5,344.5" stroke="#43658d" stroke-width="1"/>
<rect x="312.5" y="311.5" width="22.0" height="5.0" stroke="#43658d" stroke-width="1" fill="none"/>
<path d="M316.5,311.5L316.5,316.5" stroke="#43658d" stroke-width="1"/>
<path d="M329.5,311.5L329.5,316.5" stroke="#43658d" stroke-width="1"/>
<path d="M224.5,375.5 H290.5 V383.5 M421.5,375.5 H363.5 V383.5" stroke="#2f5580" stroke-width="1.2" fill="none" />
<path d="M234.5,375.5L234.5,384.5" stroke="#43658d" stroke-width="1"/>
<path d="M412.5,375.5L412.5,384.5" stroke="#43658d" stroke-width="1"/>
<path d="M224.5,384.5L421.5,384.5" stroke="#2f5580" stroke-width="1.1"/>
<path d="M221.5,387.5L425.5,387.5" stroke="#43658d" stroke-width="1"/>
<path d="M221.5,387.5L224.5,384.5" stroke="#43658d" stroke-width="1"/>
<path d="M425.5,387.5L421.5,384.5" stroke="#43658d" stroke-width="1"/>
<path d="M221.5,387L221.5,563" stroke="#2f5580" stroke-width="1.5"/>
<path d="M425.0,387L425.0,563" stroke="#2f5580" stroke-width="1.4"/>
<path d="M232.4,387L232.4,566" stroke="#2f5580" stroke-width="1.25"/>
<path d="M414.1,387L414.1,566" stroke="#2f5580" stroke-width="1.25"/>
<path d="M221.5,414.9 H239.9 L241.4,416.09999999999997 V417.9 L239.9,419.09999999999997 H221.5" stroke="#2f5580" stroke-width="1.9" fill="none" stroke-linejoin="round"/>
<path d="M222.4,414.9L222.4,419.09999999999997" stroke="#2f5580" stroke-width="2.4"/>
<path d="M425.0,414.9 H406.5 L405.0,416.09999999999997 V417.8 L406.5,419.0 H425.0" stroke="#2f5580" stroke-width="1.9" fill="none" stroke-linejoin="round"/>
<path d="M424.1,414.9L424.1,419.0" stroke="#2f5580" stroke-width="2.4"/>
<path d="M221.5,444.0 H239.9 L241.4,445.2 V447.0 L239.9,448.2 H221.5" stroke="#2f5580" stroke-width="1.9" fill="none" stroke-linejoin="round"/>
<path d="M222.4,444.0L222.4,448.2" stroke="#2f5580" stroke-width="2.4"/>
<path d="M425.0,444.0 H406.5 L405.0,445.2 V446.90000000000003 L406.5,448.1 H425.0" stroke="#2f5580" stroke-width="1.9" fill="none" stroke-linejoin="round"/>
<path d="M424.1,444.0L424.1,448.1" stroke="#2f5580" stroke-width="2.4"/>
<path d="M221.5,473.2 H239.9 L241.4,474.4 V476.2 L239.9,477.4 H221.5" stroke="#2f5580" stroke-width="1.9" fill="none" stroke-linejoin="round"/>
<path d="M222.4,473.2L222.4,477.4" stroke="#2f5580" stroke-width="2.4"/>
<path d="M425.0,473.2 H406.5 L405.0,474.4 V476.1 L406.5,477.3 H425.0" stroke="#2f5580" stroke-width="1.9" fill="none" stroke-linejoin="round"/>
<path d="M424.1,473.2L424.1,477.3" stroke="#2f5580" stroke-width="2.4"/>
<path d="M221.5,502.4 H239.9 L241.4,503.59999999999997 V505.4 L239.9,506.59999999999997 H221.5" stroke="#2f5580" stroke-width="1.9" fill="none" stroke-linejoin="round"/>
<path d="M222.4,502.4L222.4,506.59999999999997" stroke="#2f5580" stroke-width="2.4"/>
<path d="M425.0,502.4 H406.5 L405.0,503.59999999999997 V505.3 L406.5,506.5 H425.0" stroke="#2f5580" stroke-width="1.9" fill="none" stroke-linejoin="round"/>
<path d="M424.1,502.4L424.1,506.5" stroke="#2f5580" stroke-width="2.4"/>
<path d="M221.5,531.4 H239.9 L241.4,532.6 V534.4 L239.9,535.6 H221.5" stroke="#2f5580" stroke-width="1.9" fill="none" stroke-linejoin="round"/>
<path d="M222.4,531.4L222.4,535.6" stroke="#2f5580" stroke-width="2.4"/>
<path d="M425.0,531.4 H406.5 L405.0,532.6 V534.3 L406.5,535.5 H425.0" stroke="#2f5580" stroke-width="1.9" fill="none" stroke-linejoin="round"/>
<path d="M424.1,531.4L424.1,535.5" stroke="#2f5580" stroke-width="2.4"/>
<path d="M221.5,563.5L425.5,563.5" stroke="#43658d" stroke-width="1"/>
<path d="M224.5,566.5L421.5,566.5" stroke="#2f5580" stroke-width="1.1"/>
<path d="M221.5,563.5L224.5,566.5" stroke="#43658d" stroke-width="1"/>
<path d="M425.5,563.5L421.5,566.5" stroke="#43658d" stroke-width="1"/>
<path d="M224.5,566.5 V575.5 H291.5 V566.5 M421.5,566.5 V575.5 H363.5 V566.5" stroke="#43658d" stroke-width="1" fill="none" />
<path d="M229.5,573.5L291.5,573.5" stroke="#43658d" stroke-width="1"/>
<path d="M417.5,573.5L363.5,573.5" stroke="#43658d" stroke-width="1"/>
<path d="M234.5,566.5L234.5,573.5" stroke="#43658d" stroke-width="1"/>
<path d="M412.5,566.5L412.5,573.5" stroke="#43658d" stroke-width="1"/>
<path d="M221.5,563.5 V634.5 Q221.5,637.5 224.5,637.5 H422.5 Q425.5,637.5 425.5,634.5 V563.5" stroke="#43658d" stroke-width="1" fill="none" />
<path d="M224.5,575.5 V637.5 M421.5,575.5 V637.5" stroke="#43658d" stroke-width="1" fill="none" />
<path d="M229.5,575.5 V632.5 Q229.5,635.5 232.5,635.5 H287.5 M417.5,575.5 V632.5 Q417.5,635.5 414.5,635.5 H358.5" stroke="#43658d" stroke-width="1" fill="none" />
<path d="M221.5,631.5L229.5,631.5" stroke="#43658d" stroke-width="1"/>
<path d="M417.5,631.5L425.5,631.5" stroke="#43658d" stroke-width="1"/>
<path d="M239.5,566.5L239.5,637.5" stroke="#43658d" stroke-width="1"/>
<path d="M406.5,566.5L406.5,637.5" stroke="#43658d" stroke-width="1"/>
<path d="M287.7,637.90 C288.5,633.70 289.8,628.76 292.2,618.87 C293.5,613.65 297.5,607.40 306.5,607.40 H340.0 M358.8,637.90 C358.0,633.70 356.7,628.76 354.3,618.87 C353.0,613.65 349.0,607.40 340.0,607.40" stroke="#43658d" stroke-width="1.1" fill="none" />
<path d="M290.6,637.62 C291.2,633.70 292.2,628.76 295.1,618.87 C296.3,614.58 299.5,610.38 306.5,610.38 H340.0 M355.9,637.62 C355.3,633.70 354.3,628.76 351.4,618.87 C350.2,614.58 347.0,610.38 340.0,610.38" stroke="#43658d" stroke-width="1.1" fill="none" />
<path d="M294.3,637.43 C295,633.70 295.9,628.76 297.9,621.11 C299,617.38 301,613.56 306.5,613.56 H340.0 M352.2,637.43 C351.5,633.70 350.6,628.76 348.6,621.11 C347.5,617.38 345.5,613.56 340.0,613.56" stroke="#43658d" stroke-width="1.1" fill="none" />
<path d="M306.5,613.5L306.5,607.5" stroke="#43658d" stroke-width="1"/>
<path d="M340.5,613.5L340.5,607.5" stroke="#43658d" stroke-width="1"/>
<rect x="312.5" y="633.5" width="22.0" height="4.0" stroke="#43658d" stroke-width="1" fill="none"/>
<path d="M316.5,633.5L316.5,637.5" stroke="#43658d" stroke-width="1"/>
<path d="M329.5,633.5L329.5,637.5" stroke="#43658d" stroke-width="1"/>
<circle cx="270.8" cy="422.4" r="22.5" stroke="#43658d" stroke-width="1"/>
<circle cx="270.5" cy="422.2" r="19.7" stroke="#2f5580" stroke-width="1.3"/>
<circle cx="270.5" cy="421.9" r="12.3" stroke="#2f5580" stroke-width="1.2"/>
<circle cx="323.1" cy="440.2" r="7" stroke="#2f5580" stroke-width="1.7"/>
<circle cx="367.3" cy="440.2" r="7" stroke="#2f5580" stroke-width="1.7"/>
<circle cx="323.1" cy="469.5" r="7" stroke="#2f5580" stroke-width="1.7"/>
<circle cx="367.3" cy="469.5" r="7" stroke="#2f5580" stroke-width="1.7"/>
<circle cx="323.1" cy="498.5" r="7" stroke="#2f5580" stroke-width="1.7"/>
<circle cx="367.3" cy="498.5" r="7" stroke="#2f5580" stroke-width="1.7"/>
<circle cx="323.1" cy="527.8" r="7" stroke="#2f5580" stroke-width="1.7"/>
<circle cx="367.3" cy="527.8" r="7" stroke="#2f5580" stroke-width="1.7"/>
<rect x="249.6" y="519.8" width="41.4" height="16.2" rx="8.1" ry="8.1" stroke="#2f5580" stroke-width="1.5"/>
<path d="M269.1,462.2 L266.8,473.6 H274.6 L272.3,462.2 Z" stroke="#111" stroke-width="1.5" fill="#fff" />
<circle cx="270.7" cy="455.7" r="1.6" stroke="#111" stroke-width="1.5"/>
<path d="M267.8,451.8 Q265,455.7 267.8,459.6 M273.6,451.8 Q276.4,455.7 273.6,459.6" stroke="#111" stroke-width="1.7" fill="none" />
<path d="M265.2,450 Q261.8,455.7 265.2,461.6 M276.2,450 Q279.6,455.7 276.2,461.6" stroke="#111" stroke-width="1.7" fill="none" />
<path d="M262.7,448.6 Q258.2,455.8 262.7,463.4 M278.7,448.6 Q283.2,455.8 278.7,463.4" stroke="#111" stroke-width="1.8" fill="none" />
</g>
<g>
<path d="M316.1,393.4 L322.9,393.4 L323.4,395.2 L325.3,396.8 L325.3,399.1 L321.9,399.1 L321.9,402 L319.8,402 L318,400.4 L316.1,398.4 Z" fill="#0a0a0a"/>
<path d="M328.7,393.9 L328.7,405.9 L316.1,405.9 L316.1,405.1 L321.4,402.3 L325.3,402.3 L325.3,397.8 Z" fill="#0a0a0a"/>
<path d="M318.3,396 L322.4,396.4" stroke="#bbb" stroke-width="0.8"/>
</g>
<text x="330.6" y="405.9" font-family="'Liberation Sans', sans-serif" font-size="17.5" font-style="italic" fill="#0a0a0a" stroke="#0a0a0a" stroke-width="0.3" textLength="42.6" lengthAdjust="spacing">Acrel</text>
<rect x="316.2" y="409.5" width="74.6" height="13.0" stroke="#000" stroke-width="0" fill="#000"/>
<text x="318.2" y="420.3" font-family="'Liberation Sans', sans-serif" font-size="9.8" font-weight="normal" font-style="normal" fill="#fff" textLength="36.0" lengthAdjust="spacingAndGlyphs" >ADW400</text>
<text x="335.3" y="445.2" font-family="'Liberation Mono', sans-serif" font-size="11.4" font-weight="normal" font-style="normal" fill="#111" textLength="16.1" lengthAdjust="spacingAndGlyphs" stroke="#111" stroke-width="0.35">COM</text>
<text x="338.7" y="474.5" font-family="'Liberation Mono', sans-serif" font-size="11.4" font-weight="normal" font-style="normal" fill="#111" textLength="10.5" lengthAdjust="spacingAndGlyphs" stroke="#111" stroke-width="0.35">UA</text>
<text x="338.7" y="503.5" font-family="'Liberation Mono', sans-serif" font-size="11.4" font-weight="normal" font-style="normal" fill="#111" textLength="10.5" lengthAdjust="spacingAndGlyphs" stroke="#111" stroke-width="0.35">UB</text>
<text x="338.7" y="532.8" font-family="'Liberation Mono', sans-serif" font-size="11.4" font-weight="normal" font-style="normal" fill="#111" textLength="10.5" lengthAdjust="spacingAndGlyphs" stroke="#111" stroke-width="0.35">UC</text>
<text x="379.8" y="445.2" font-family="'Liberation Mono', sans-serif" font-size="11.4" font-weight="normal" font-style="normal" fill="#111" textLength="15.4" lengthAdjust="spacingAndGlyphs" stroke="#111" stroke-width="0.35">DI1</text>
<text x="379.8" y="474.5" font-family="'Liberation Mono', sans-serif" font-size="11.4" font-weight="normal" font-style="normal" fill="#111" textLength="15.4" lengthAdjust="spacingAndGlyphs" stroke="#111" stroke-width="0.35">DI2</text>
<text x="379.8" y="503.5" font-family="'Liberation Mono', sans-serif" font-size="11.4" font-weight="normal" font-style="normal" fill="#111" textLength="15.4" lengthAdjust="spacingAndGlyphs" stroke="#111" stroke-width="0.35">DI3</text>
<text x="379.8" y="532.8" font-family="'Liberation Mono', sans-serif" font-size="11.4" font-weight="normal" font-style="normal" fill="#111" textLength="15.4" lengthAdjust="spacingAndGlyphs" stroke="#111" stroke-width="0.35">DI4</text>
<text x="255" y="515.4" font-family="'Liberation Sans', 'Noto Sans CJK SC', sans-serif" font-size="15" fill="#111">红外</text>
<g fill="none">
<path d="M65.5,20.5L65.5,55.5" stroke="#000" stroke-width="1"/>
<path d="M269.5,20.5L269.5,55.5" stroke="#000" stroke-width="1"/>
<path d="M65.5,22.5L158.5,22.5" stroke="#000" stroke-width="1"/>
<path d="M169.5,22.5L269.5,22.5" stroke="#000" stroke-width="1"/>
<path d="M35.7,45.0L76.9,45.0" stroke="#000" stroke-width="1.25"/>
<path d="M37.5,45.5L37.5,145.5" stroke="#000" stroke-width="1"/>
<path d="M37.5,156.5L37.5,257.5" stroke="#000" stroke-width="1"/>
<path d="M36.5,257.5L80.5,257.5" stroke="#000" stroke-width="1"/>
<path d="M377.5,23.5L377.5,55.5" stroke="#000" stroke-width="1"/>
<path d="M581.5,23.5L581.5,55.5" stroke="#000" stroke-width="1"/>
<path d="M377.5,24.5L470.5,24.5" stroke="#000" stroke-width="1"/>
<path d="M480.5,24.5L581.5,24.5" stroke="#000" stroke-width="1"/>
<path d="M347.3,45.0L388.6,45.0" stroke="#000" stroke-width="1.25"/>
<path d="M349.5,45.5L349.5,145.5" stroke="#000" stroke-width="1"/>
<path d="M349.5,156.5L349.5,257.5" stroke="#000" stroke-width="1"/>
<path d="M348.5,257.5L392.5,257.5" stroke="#000" stroke-width="1"/>
<path d="M221.5,287.5L221.5,315.5" stroke="#000" stroke-width="1"/>
<path d="M425.5,287.5L425.5,314.5" stroke="#000" stroke-width="1"/>
<path d="M221.5,288.5L314.5,288.5" stroke="#000" stroke-width="1"/>
<path d="M325.5,288.5L425.5,288.5" stroke="#000" stroke-width="1"/>
<path d="M191.5,311.5L224.5,311.5" stroke="#000" stroke-width="1"/>
<path d="M193.5,311.5L193.5,469.5" stroke="#000" stroke-width="1"/>
<path d="M193.5,480.5L193.5,638.5" stroke="#000" stroke-width="1"/>
<path d="M192.5,638.5L225.5,638.5" stroke="#000" stroke-width="1"/>
</g>
<rect x="69" y="20.6" width="4.6" height="3.2" rx="0.9" fill="#000"/>
<rect x="262" y="20.6" width="4.6" height="3.2" rx="0.9" fill="#000"/>
<rect x="35.8" y="47.8" width="3.2" height="4.2" rx="0.8" fill="#000"/>
<rect x="35.8" y="249.7" width="3.2" height="4.0" rx="0.8" fill="#000"/>
<rect x="381" y="22.7" width="4.7" height="3.2" rx="0.9" fill="#000"/>
<rect x="572.8" y="22.7" width="4.6" height="3.2" rx="0.9" fill="#000"/>
<rect x="347.79999999999995" y="47.8" width="3.2" height="4.2" rx="0.8" fill="#000"/>
<rect x="347.79999999999995" y="249.7" width="3.2" height="4.0" rx="0.8" fill="#000"/>
<rect x="225" y="287.3" width="5" height="3.2" rx="0.9" fill="#000"/>
<rect x="416.8" y="287.3" width="4.7" height="3.2" rx="0.9" fill="#000"/>
<rect x="191.6" y="314" width="3.2" height="6" rx="0.8" fill="#000"/>
<rect x="191.6" y="630.8" width="3.2" height="5.2" rx="0.8" fill="#000"/>
<text x="158.8" y="27" font-family="'Liberation Sans', sans-serif" font-size="15.0" font-weight="normal" font-style="normal" fill="#0a0a0a" textLength="16.4" lengthAdjust="spacingAndGlyphs" stroke="#fff" stroke-width="0.2">56</text>
<text x="470.7" y="29" font-family="'Liberation Sans', sans-serif" font-size="15.0" font-weight="normal" font-style="normal" fill="#0a0a0a" textLength="16.5" lengthAdjust="spacingAndGlyphs" stroke="#fff" stroke-width="0.2">56</text>
<text x="314.6" y="294.7" font-family="'Liberation Sans', sans-serif" font-size="15.0" font-weight="normal" font-style="normal" fill="#0a0a0a" textLength="17.4" lengthAdjust="spacingAndGlyphs" stroke="#fff" stroke-width="0.2">56</text>
<text x="28.7" y="156" font-family="'Liberation Sans', sans-serif" font-size="14.6" font-weight="normal" font-style="normal" fill="#0a0a0a" textLength="17.1" lengthAdjust="spacingAndGlyphs" stroke="#fff" stroke-width="0.2">58</text>
<text x="340.7" y="156" font-family="'Liberation Sans', sans-serif" font-size="14.6" font-weight="normal" font-style="normal" fill="#0a0a0a" textLength="17.1" lengthAdjust="spacingAndGlyphs" stroke="#fff" stroke-width="0.2">58</text>
<text x="185.9" y="480" font-family="'Liberation Sans', sans-serif" font-size="14.6" font-weight="normal" font-style="normal" fill="#0a0a0a" textLength="14.4" lengthAdjust="spacingAndGlyphs" stroke="#fff" stroke-width="0.2">90</text>
<text x="258.6" y="679.6" font-family="'Liberation Serif', 'Noto Serif CJK SC', serif" font-size="16.5" fill="#111" textLength="50" lengthAdjust="spacingAndGlyphs">ADW400</text>
<text x="314.6" y="679.6" font-family="'Liberation Serif', 'Noto Serif CJK SC', serif" font-size="16.6" fill="#111">尺寸图</text>
</g>
</svg></body></html>
